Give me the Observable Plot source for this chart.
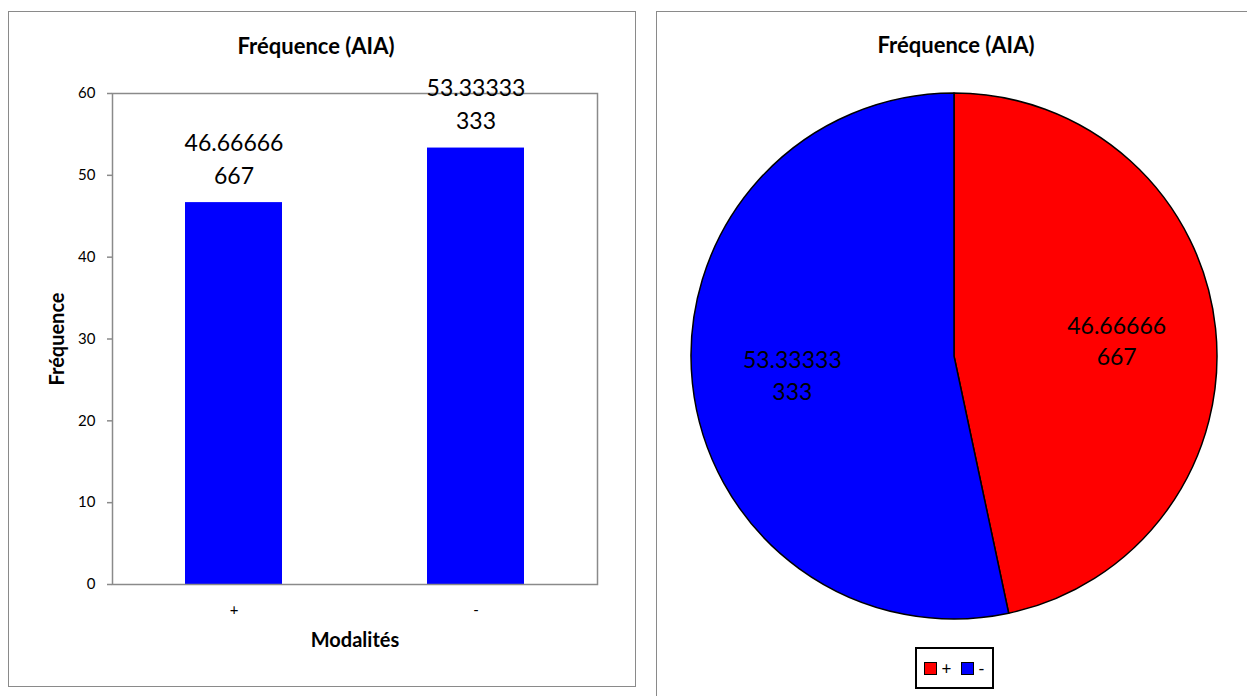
<!DOCTYPE html>
<html>
<head>
<meta charset="utf-8">
<script src="https://cdn.jsdelivr.net/npm/d3@7"></script>
<script src="https://cdn.jsdelivr.net/npm/@observablehq/plot@0.6"></script>
<style>
  html, body { margin: 0; padding: 0; background: #fff; width: 1247px; height: 696px; overflow: hidden; font-family: Lato, "Open Sans", sans-serif; }
  .panel { position: absolute; box-sizing: border-box; background: #fff; }
  #left { left: 8px; top: 11px; width: 628px; height: 676px; border: 1.5px solid #8a8a8a; }
  #right { left: 656px; top: 11px; width: 620px; height: 720px; border-left: 1.5px solid #8a8a8a; border-top: 1.5px solid #8a8a8a; }
  .title { position: absolute; font-weight: bold; font-size: 22px; line-height: 1; color: #000; white-space: nowrap; transform: translate(-50%, -50%); }
  #legend { position: absolute; left: 915px; top: 647px; width: 79px; height: 42px; box-sizing: border-box; border: 2px solid #000; background: #fff; display: flex; align-items: center; justify-content: center; font-size: 17px; color: #000; }
  .sw { width: 13px; height: 13px; box-sizing: border-box; border: 1.5px solid #000; display: inline-block; }
  .item { display: flex; align-items: center; gap: 4px; margin: 0 5px; }
</style>
</head>
<body>
<div id="left" class="panel"></div>
<div id="right" class="panel"></div>
<div class="title" style="left:316px; top:46px;">Fréquence (AIA)</div>
<div class="title" style="left:956px; top:45px;">Fréquence (AIA)</div>
<div id="barwrap" style="position:absolute; left:8px; top:11px;"></div>
<div id="piewrap" style="position:absolute; left:656px; top:11px;"></div>
<div id="legend"></div>
<script>
// ---- data ----
const categories = ["+", "-"];
const values = [46.66666667, 53.33333333];
const pieColors = ["#FF0000", "#0000FF"];
const barColor = "#0000FF";
const yTicks = [0, 10, 20, 30, 40, 50, 60];
const yLabel = "Fréquence";
const xLabel = "Modalités";

const data = categories.map((c, i) => ({cat: c, value: values[i]}));
// Excel-like wrapped number labels
const wrapLabel = v => { const s = v.toFixed(8); return s.slice(0, 8) + "\n" + s.slice(8); };

const font = "Lato, 'Open Sans', sans-serif";

// ---- bar chart ----
const bar = Plot.plot({
  width: 627, height: 675,
  marginLeft: 104, marginRight: 38, marginTop: 82, marginBottom: 102,
  style: {fontFamily: font, background: "transparent", overflow: "visible", color: "#000"},
  x: {domain: categories, paddingInner: 0.6, paddingOuter: 0.3},
  y: {domain: [0, 60]},
  marks: [
    Plot.barY(data, {x: "cat", y: "value", fill: barColor}),
    Plot.frame({stroke: "#8a8a8a", strokeWidth: 1.5}),
    Plot.axisY({ticks: yTicks, tickSize: 5, stroke: "#8a8a8a", fill: "#000", strokeWidth: 1.5, tickPadding: 12, fontSize: 15, label: null}),
    Plot.axisX({tickSize: 0, tickPadding: 20, fontSize: 15, label: null, fill: "#000"}),
    Plot.text(data, {x: "cat", y: "value", text: d => wrapLabel(d.value), lineAnchor: "bottom", dy: -19, fontSize: 23, lineHeight: 1.43, fill: "#000"}),
    Plot.text([xLabel], {frameAnchor: "bottom", lineAnchor: "middle", textAnchor: "middle", dy: 56, fontWeight: "bold", fontSize: 20, fill: "#000"}),
    Plot.text([yLabel], {frameAnchor: "left", lineAnchor: "middle", textAnchor: "middle", dx: -55, rotate: -90, fontWeight: "bold", fontSize: 20, fill: "#000"})
  ]
});
document.getElementById("barwrap").append(bar);

// ---- pie chart ----
const arcs = d3.pie().sort(null).value(d => d.value)(data);
const labelR = 0.62;
const pieLabels = arcs.map(a => {
  const mid = (a.startAngle + a.endAngle) / 2;
  return {x: labelR * Math.sin(mid), y: labelR * Math.cos(mid), text: wrapLabel(a.data.value)};
});
const pieMark = (index, scales) => {
  const cx = scales.x(0), cy = scales.y(0), r = scales.x(1) - scales.x(0);
  const arc = d3.arc().innerRadius(0).outerRadius(r);
  const g = d3.create("svg:g").attr("transform", `translate(${cx},${cy})`);
  g.selectAll("path").data(arcs).join("path")
    .attr("d", arc)
    .attr("fill", (d, i) => pieColors[i])
    .attr("stroke", "#000")
    .attr("stroke-width", 1.5)
    .attr("stroke-linejoin", "round");
  return g.node();
};
const pie = Plot.plot({
  width: 591, height: 685,
  marginLeft: 35, marginRight: 30, marginTop: 82, marginBottom: 77,
  style: {fontFamily: font, background: "transparent", overflow: "visible"},
  x: {domain: [-1, 1], axis: null},
  y: {domain: [-1, 1], axis: null},
  marks: [
    pieMark,
    Plot.text(pieLabels, {x: "x", y: "y", text: "text", fontSize: 23, lineHeight: 1.38, fill: "#000"})
  ]
});
document.getElementById("piewrap").append(pie);

// ---- legend ----
const legend = document.getElementById("legend");
categories.forEach((c, i) => {
  const it = document.createElement("span");
  it.className = "item";
  const sw = document.createElement("span");
  sw.className = "sw";
  sw.style.background = pieColors[i];
  const t = document.createElement("span");
  t.textContent = c;
  it.append(sw, t);
  legend.append(it);
});
</script>
</body>
</html>
